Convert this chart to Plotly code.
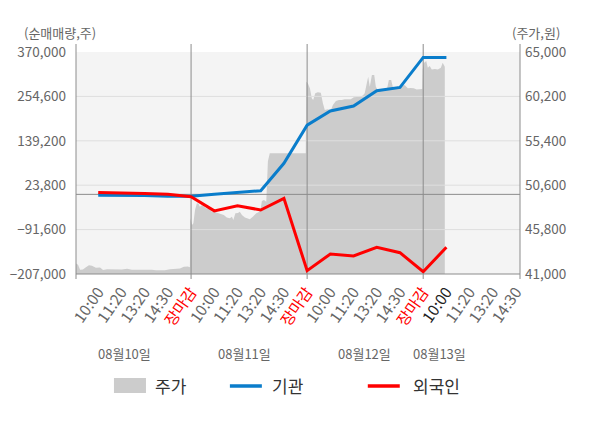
import plotly.graph_objects as go

# ---------------- data ----------------
slot_labels = ["10:00", "11:20", "13:20", "14:30", "장마감",
               "10:00", "11:20", "13:20", "14:30", "장마감",
               "10:00", "11:20", "13:20", "14:30", "장마감",
               "10:00", "11:20", "13:20", "14:30"]
slot_pos = list(range(1, 20))
day_labels = ["08월10일", "08월11일", "08월12일", "08월13일"]
day_bounds = [5, 10, 15]

# net buying (shares), one point per slot (10:00 of 08/10 .. 10:00 of 08/13)
flow_pos = list(range(1, 17))
inst_flow = [-2000, -2000, -3000, -5000, -5000, 0, 5000, 9500, 80700, 180000,
             216700, 229600, 269400, 278000, 356000, 356000]
foreign_flow = [5000, 4000, 2000, 0, -6000, -43000, -29500, -40700, -10300, -198400,
                -155000, -160000, -137600, -151600, -201000, -137600]

# stock price (won), intraday samples, x in slot units
price_x = [0.04, 0.13, 0.22, 0.34, 0.47, 0.60, 0.73, 0.90, 1.08, 1.21, 1.38, 1.59, 1.81,
           2.02, 2.24, 2.45, 2.67, 2.88, 3.10, 3.31, 3.49, 3.66, 3.87, 4.09, 4.30, 4.52,
           4.69, 4.86, 4.95,
           4.97, 5.04, 5.10, 5.17, 5.25, 5.32, 5.38, 5.47, 5.55, 5.64, 5.77, 5.90, 6.03,
           6.16, 6.28, 6.41, 6.54, 6.67, 6.76, 6.82, 6.91, 7.02, 7.10, 7.19, 7.32, 7.45,
           7.53, 7.66, 7.81, 7.92, 7.99, 8.05, 8.14, 8.24, 8.31, 8.39, 9.94,
           9.96, 10.03, 10.12, 10.20, 10.26, 10.35, 10.46, 10.59, 10.68, 10.76, 10.89,
           11.02, 11.11, 11.24, 11.37, 11.49, 11.62, 11.75, 11.88, 12.01, 12.14, 12.27,
           12.40, 12.48, 12.57, 12.63, 12.70, 12.79, 12.89, 12.96, 13.04, 13.17, 13.30,
           13.43, 13.52, 13.62, 13.69, 13.82, 13.95, 14.08, 14.21, 14.34, 14.46, 14.59,
           14.72, 14.85, 14.96,
           14.98, 15.04, 15.13, 15.20, 15.28, 15.37, 15.50, 15.63, 15.76, 15.84, 15.93]
price_y = [42150, 42000, 41450, 41500, 41720, 41940, 41900, 41680, 41700, 41430, 41520,
           41500, 41540, 41500, 41580, 41470, 41460, 41480, 41450, 41460, 41400, 41390,
           41410, 41510, 41520, 41600, 41790, 41800, 41720,
           47020, 46300, 46500, 47920, 48640, 48600, 48280, 48460, 48300, 48100, 48050,
           47730, 47700, 47560, 47450, 47380, 47100, 47020, 47200, 46840, 47560, 47600,
           47730, 47380, 47100, 47020, 46910, 47200, 47560, 47700, 47920, 48900, 49000,
           48800, 53200, 54050, 54050,
           61790, 61610, 61070, 59990, 59810, 60530, 60640, 60600, 59450, 58730, 58800,
           58700, 59270, 59700, 59810, 59800, 59880, 59850, 59900, 60100, 60150, 60150,
           60300, 60530, 61610, 62330, 61250, 62510, 62510, 61250, 60890, 60950, 60900,
           60890, 61970, 61970, 61250, 61150, 61180, 61430, 61400, 61070, 61100, 61070,
           60950, 60950, 61000,
           63120, 63850, 64030, 63300, 63480, 63120, 63150, 63100, 63300, 63850, 63400]

flow_ticks = [-207000, -91600, 23800, 139200, 254600, 370000]
price_ticks = [41000, 45800, 50600, 55400, 60200, 65000]

# ---------------- styling ----------------
FONT = "Noto Sans CJK KR"
GRAY_TXT = "#666666"
LINE_GRAY = "#8c8c8c"
GRID = "#dedede"
BLUE = "#0a7dcb"
RED = "#ff0000"
XR = [0.043, 19.17]

def tick_text(i, s):
    if s == "장마감":
        return '<span style="color:#ff0000">%s</span>' % s
    if i == 15:
        return '<span style="color:#222222">%s</span>' % s
    return s

fig = go.Figure()

# price area (primary axis, right side)
fig.add_trace(go.Scatter(x=price_x, y=price_y, mode="lines", fill="tozeroy",
                         fillcolor="#cccccc", line=dict(width=0, color="#cccccc"),
                         hoverinfo="skip", showlegend=False, yaxis="y"))

# reference lines drawn above area but below flow lines (on primary axis)
pmin, pmax = price_ticks[0], price_ticks[-1]
for pv in price_ticks[1:-1]:
    fig.add_trace(go.Scatter(x=XR, y=[pv, pv], mode="lines", line=dict(color=GRID, width=1),
                             hoverinfo="skip", showlegend=False, yaxis="y"))
zero_price = pmin + (0 - flow_ticks[0]) / (flow_ticks[-1] - flow_ticks[0]) * (pmax - pmin)
fig.add_trace(go.Scatter(x=XR, y=[zero_price, zero_price], mode="lines",
                         line=dict(color=LINE_GRAY, width=1),
                         hoverinfo="skip", showlegend=False, yaxis="y"))
for b in day_bounds:
    fig.add_trace(go.Scatter(x=[b, b], y=[pmin, pmax], mode="lines",
                             line=dict(color=LINE_GRAY, width=1),
                             hoverinfo="skip", showlegend=False, yaxis="y"))

# flows (overlay axis, left side)
fig.add_trace(go.Scatter(x=flow_pos, y=inst_flow, mode="lines", name="기관",
                         line=dict(color=BLUE, width=3), showlegend=False, yaxis="y2"))
fig.add_trace(go.Scatter(x=flow_pos, y=foreign_flow, mode="lines", name="외국인",
                         line=dict(color=RED, width=3), showlegend=False, yaxis="y2"))

shapes = []
# axis lines / tick stubs outside plot area
ext_lo, ext_hi = -0.0225, 1.036
for xp in [0, 1]:
    shapes.append(dict(type="line", xref="paper", yref="paper", x0=xp, x1=xp,
                       y0=ext_lo, y1=ext_hi, line=dict(color=LINE_GRAY, width=1), layer="above"))
for b in day_bounds:
    shapes.append(dict(type="line", xref="x", yref="paper", x0=b, x1=b, y0=ext_lo, y1=0,
                       line=dict(color=LINE_GRAY, width=1), layer="above"))
    shapes.append(dict(type="line", xref="x", yref="paper", x0=b, x1=b, y0=1, y1=ext_hi,
                       line=dict(color=LINE_GRAY, width=1), layer="above"))
shapes.append(dict(type="line", xref="paper", yref="paper", x0=0, x1=1, y0=0, y1=0,
                   line=dict(color=LINE_GRAY, width=1), layer="above"))

# legend (hand drawn)
ly = -0.5045
shapes.append(dict(type="rect", xref="paper", yref="paper", x0=0.0855, x1=0.1576,
                   y0=-0.536, y1=-0.468, fillcolor="#cccccc", line=dict(width=0)))
shapes.append(dict(type="line", xref="paper", yref="paper", x0=0.3466, x1=0.4186,
                   y0=ly, y1=ly, line=dict(color=BLUE, width=3.5)))
shapes.append(dict(type="line", xref="paper", yref="paper", x0=0.6572, x1=0.7292,
                   y0=ly, y1=ly, line=dict(color=RED, width=3.5)))

annotations = []
for txt, xp in zip(["주가", "기관", "외국인"], [0.1733, 0.4366, 0.754]):
    annotations.append(dict(text=txt, xref="paper", yref="paper", x=xp, y=ly,
                            xanchor="left", yanchor="middle", showarrow=False,
                            font=dict(family=FONT, size=17, color="#333333")))
day_label_x = [2.15, 7.32, 12.48, 15.71]
for txt, xv in zip(day_labels, day_label_x):
    annotations.append(dict(text=txt, xref="x", yref="paper", x=xv, y=-0.356,
                            xanchor="center", yanchor="middle", showarrow=False,
                            font=dict(family=FONT, size=13, color=GRAY_TXT)))
annotations.append(dict(text="(순매매량,주)", xref="paper", yref="paper", x=-0.1215, y=1.0856,
                        xanchor="left", yanchor="middle", showarrow=False,
                        font=dict(family=FONT, size=13, color=GRAY_TXT)))
annotations.append(dict(text="(주가,원)", xref="paper", yref="paper", x=1.0939, y=1.0856,
                        xanchor="right", yanchor="middle", showarrow=False,
                        font=dict(family=FONT, size=13, color=GRAY_TXT)))

fig.update_layout(
    width=600, height=428,
    margin=dict(l=76, r=80, t=52, b=154, pad=0, autoexpand=False),
    paper_bgcolor="white", plot_bgcolor="#f4f4f4",
    font=dict(family=FONT, size=13, color=GRAY_TXT),
    showlegend=False,
    xaxis=dict(range=XR, tickmode="array", tickvals=slot_pos, automargin=False,
               ticktext=[tick_text(i, s) for i, s in enumerate(slot_labels)],
               tickangle=-55, showgrid=False, zeroline=False, showline=False, ticks="",
               ticklabelstandoff=5,
               tickfont=dict(family=FONT, size=15.5, color=GRAY_TXT), fixedrange=True),
    yaxis=dict(range=[pmin, pmax], side="right", tickmode="array", tickvals=price_ticks,
               tickformat=",", showgrid=False, zeroline=False, showline=False, ticks="",
               ticklabelstandoff=4, automargin=False,
               tickfont=dict(family=FONT, size=13.5, color=GRAY_TXT)),
    yaxis2=dict(range=[flow_ticks[0], flow_ticks[-1]], side="left", overlaying="y",
                tickmode="array", tickvals=flow_ticks, tickformat=",", automargin=False,
                showgrid=False, zeroline=False, showline=False, ticks="",
                ticklabelstandoff=9,
                tickfont=dict(family=FONT, size=13.5, color=GRAY_TXT)),
    shapes=shapes, annotations=annotations,
)

fig.write_html("out.html", config={"displayModeBar": False},
               post_script="document.body.style.margin='0';document.body.style.overflow='hidden';")
